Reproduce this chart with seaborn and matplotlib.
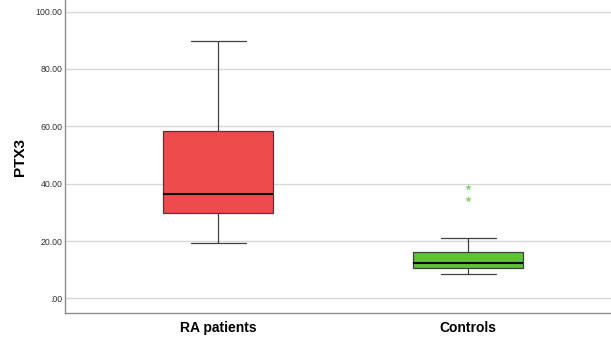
import numpy as np
import pandas as pd
import matplotlib
matplotlib.use("Agg")
import matplotlib.pyplot as plt
import seaborn as sns

# Five-number summaries
groups = ["RA patients", "Controls"]
whisker_low = [19.4, 8.4]
q1 = [29.6, 10.7]
median = [36.4, 12.4]
q3 = [58.4, 16.3]
whisker_high = [89.7, 20.9]
outlier_group = ["Controls", "Controls"]
outlier_values = [38.7, 34.5]
colors = ["#EE4B4D", "#60C13A"]
yticks = [0, 20, 40, 60, 80, 100]
ytick_labels = [".00", "20.00", "40.00", "60.00", "80.00", "100.00"]

rows = []
for g, a, b, c, d, e in zip(groups, whisker_low, q1, median, q3, whisker_high):
    for v in (a, b, c, d, e):
        rows.append({"group": g, "PTX3": v})
df = pd.DataFrame(rows)
out_df = pd.DataFrame({"group": outlier_group, "PTX3": outlier_values})

sns.set_style("white")
plt.rcParams["font.family"] = ["Liberation Sans", "DejaVu Sans"]

fig = plt.figure(figsize=(6.11, 3.38), dpi=100)
ax = fig.add_axes([65 / 611, 25 / 338, 546 / 611, 313 / 338])

for y in yticks:
    ax.axhline(y, color="#d9d9d9", lw=1.0, zorder=0)

sns.boxplot(data=df, x="group", y="PTX3", order=groups, hue="group",
            palette=colors, saturation=1, legend=False, whis=np.inf, width=0.44,
            linecolor="#404040", linewidth=0.9, showfliers=False,
            medianprops={"color": "black", "linewidth": 1.5},
            ax=ax, zorder=2)
sns.scatterplot(data=out_df, x="group", y="PTX3", marker="*", s=18,
                color="#86D46C", edgecolor="#86D46C", linewidth=0.3, ax=ax, zorder=3)

ax.set_xlim(-0.612, 1.572)
ax.set_ylim(-5.1, 104.05)
ax.set_yticks(yticks)
ax.set_yticklabels(ytick_labels, fontsize=6.3, color="#333333")
ax.tick_params(axis="y", length=0, pad=2)
ax.tick_params(axis="x", length=0, pad=6)
for lab in ax.get_xticklabels():
    lab.set_fontsize(10)
    lab.set_fontweight("bold")
    lab.set_color("black")
ax.set_xlabel("")
ax.set_ylabel("PTX3", fontsize=11, fontweight="bold", labelpad=6, color="black")

for s in ["top", "right"]:
    ax.spines[s].set_visible(False)
for s in ["left", "bottom"]:
    ax.spines[s].set_color("#8c8c8c")
    ax.spines[s].set_linewidth(1.0)

fig.savefig("out.png", dpi=100, facecolor="white")
